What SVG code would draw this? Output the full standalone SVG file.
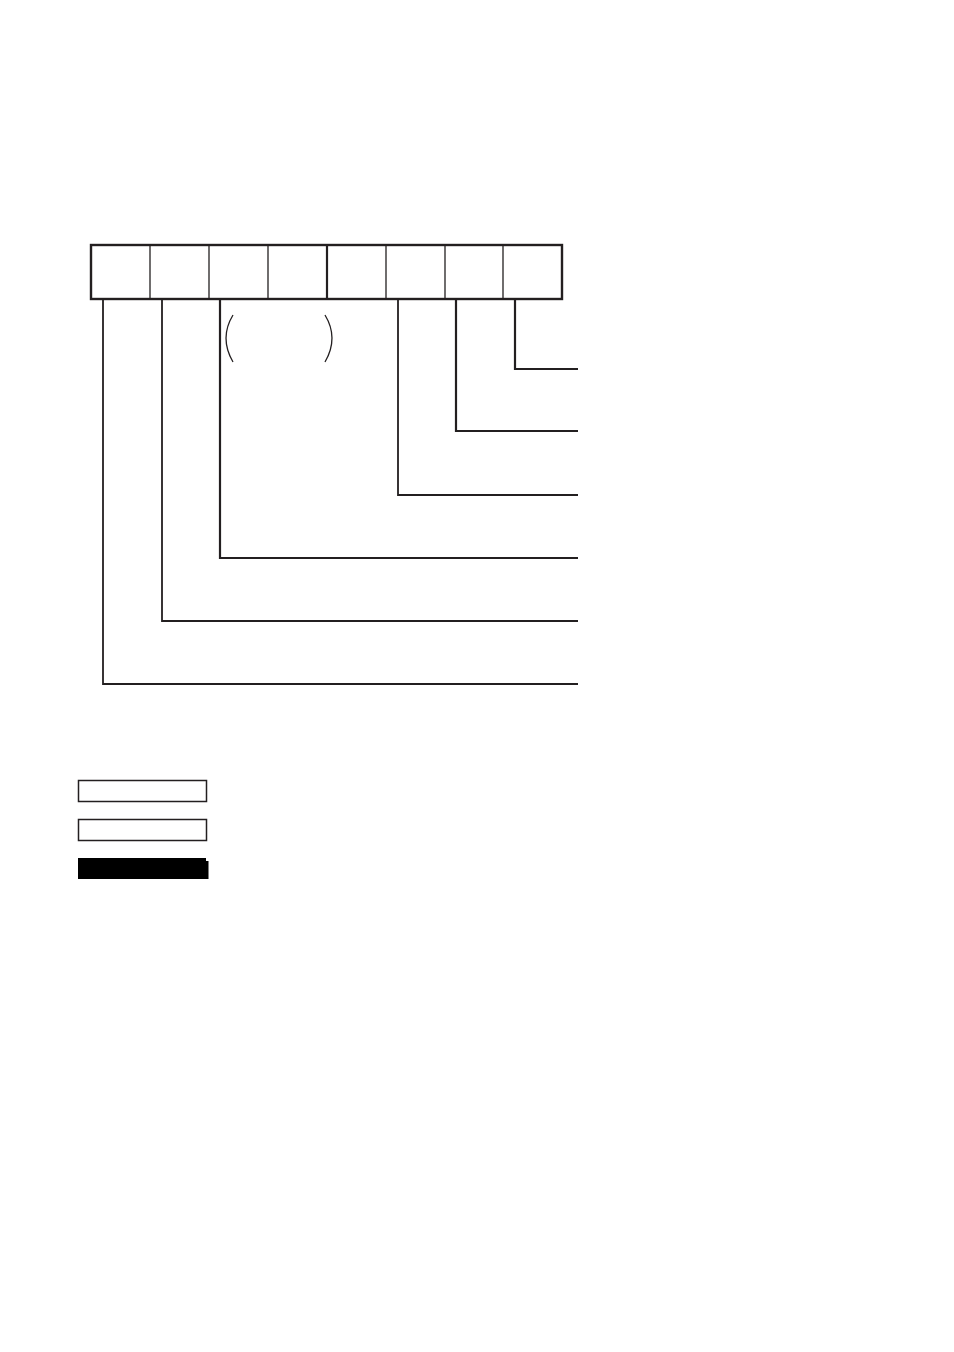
<svg xmlns="http://www.w3.org/2000/svg" width="954" height="1352" viewBox="0 0 954 1352">
<style>
.ln{fill:none;stroke:#231f20;stroke-width:1.8}
.thin{fill:none;stroke:#231f20;stroke-width:1.3}
.box{fill:#fff;stroke:#231f20;stroke-width:2.4}
.leg{fill:#fff;stroke:#231f20;stroke-width:1.5}
</style>
<rect width="954" height="1352" fill="#fff"/>
<g id="register">
<rect class="box" x="91" y="245" width="471" height="54"/>
<line class="thin" x1="150" y1="245" x2="150" y2="299"/>
<line class="thin" x1="209" y1="245" x2="209" y2="299"/>
<line class="thin" x1="268" y1="245" x2="268" y2="299"/>
<line class="ln" x1="327" y1="245" x2="327" y2="299" style="stroke-width:2.2"/>
<line class="thin" x1="386" y1="245" x2="386" y2="299"/>
<line class="thin" x1="445" y1="245" x2="445" y2="299"/>
<line class="thin" x1="503" y1="245" x2="503" y2="299"/>
</g>
<g id="connectors">
<polyline class="ln" points="103,299 103,684 578,684"/>
<polyline class="ln" points="162,299 162,621 578,621"/>
<polyline class="ln" points="220,299 220,558 578,558" style="stroke-width:2.2"/>
<polyline class="ln" points="398,299 398,495 578,495"/>
<polyline class="ln" points="456,299 456,431 578,431" style="stroke-width:2.2"/>
<polyline class="ln" points="515,299 515,369 578,369" style="stroke-width:2.2"/>
</g>
<g id="brackets">
<path class="thin" d="M233,315 Q219,338 233,362"/>
<path class="thin" d="M325,315 Q339,338 325,362"/>
</g>
<g id="legend">
<rect class="leg" x="78.5" y="780.5" width="128" height="21"/>
<rect class="leg" x="78.5" y="819.5" width="128" height="21"/>
<rect x="78" y="858" width="128" height="21" fill="#000"/>
<rect x="205" y="861" width="3.5" height="18" fill="#000"/>
</g>
</svg>
